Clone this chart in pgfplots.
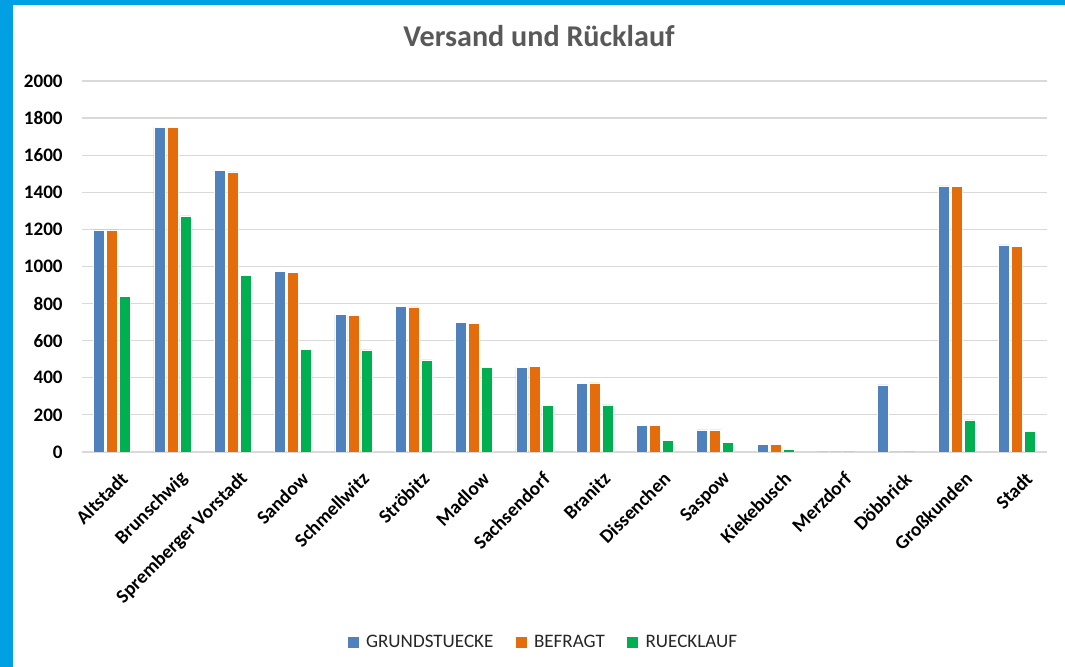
\documentclass[border=0pt]{standalone}
\usepackage{pgfplots}
\pgfplotsset{compat=1.18}
\usepackage{pgfplotstable}
\usepackage{fontspec}
\setmainfont{Carlito}
\definecolor{cBlue}{HTML}{4F81BD}
\definecolor{cOrange}{HTML}{E46C0A}
\definecolor{cGreen}{HTML}{00B050}
\definecolor{cFrame}{HTML}{00A0E3}
\definecolor{cGrid}{HTML}{D9D9D9}
\definecolor{cTitle}{HTML}{595959}

\pgfplotstableread{
idx G B R
0 1197 1197 838
1 1752 1748 1273
2 1516 1510 954
3 972 968 553
4 742 738 550
5 787 782 496
6 697 692 457
7 457 462 252
8 371 372 254
9 142 142 61
10 119 119 50
11 41 41 16
12 0 0 0
13 362 0 0
14 1434 1432 173
15 1116 1106 113
}\datatable

\begin{document}
\begin{tikzpicture}
\fill[cFrame] (0pt,0pt) rectangle (798.75pt,500.25pt);
\fill[white] (9.75pt,0pt) rectangle (798.75pt,496.5pt);
\node[font=\fontsize{22.6}{26}\selectfont\bfseries, text=cTitle] at (404.25pt,473.25pt) {Versand und Rücklauf};
\begin{axis}[
  at={(61.5pt,161.25pt)}, anchor=south west,
  scale only axis,
  width=723.75pt, height=278.25pt,
  ybar=1.5pt, bar width=8.25pt,
  xmin=-0.5, xmax=15.5,
  ymin=0, ymax=2000,
  ytick={0,200,...,2000},
  xtick={0,...,15},
  xticklabels={Altstadt,Brunschwig,Spremberger Vorstadt,Sandow,Schmellwitz,Ströbitz,Madlow,Sachsendorf,Branitz,Dissenchen,Saspow,Kiekebusch,Merzdorf,Döbbrick,Großkunden,Stadt},
  xticklabel style={rotate=45, anchor=east, font=\fontsize{14.5}{17}\selectfont\bfseries, inner sep=1pt, yshift=-19pt, xshift=-5pt},
  yticklabel style={font=\fontsize{14.3}{17}\selectfont\bfseries, xshift=-11pt},
  /pgf/number format/assume math mode=true,
  /pgf/number format/1000 sep={},
  major tick length=0pt,
  ymajorgrids, grid style={cGrid, line width=0.9pt},
  axis x line*=bottom, axis y line*=left,
  y axis line style={draw=none},
  x axis line style={cGrid, line width=0.9pt, -},
  legend columns=3,
  legend style={at={(0.478,-0.512)}, anchor=center, draw=none, fill=none,
    font=\fontsize{14.3}{17}\selectfont, text=black!85,
    /tikz/every even column/.append style={column sep=14pt}},
  legend image code/.code={\fill[#1] (0pt,-4.5pt) rectangle (9pt,4.5pt); \path (12pt,0pt);},
]
\addplot[fill=cBlue, draw=white, line width=0.5pt] table[x=idx,y=G] {\datatable};
\addplot[fill=cOrange, draw=white, line width=0.5pt] table[x=idx,y=B] {\datatable};
\addplot[fill=cGreen, draw=white, line width=0.5pt] table[x=idx,y=R] {\datatable};
\legend{GRUNDSTUECKE, BEFRAGT, RUECKLAUF}
\end{axis}
\end{tikzpicture}
\end{document}
